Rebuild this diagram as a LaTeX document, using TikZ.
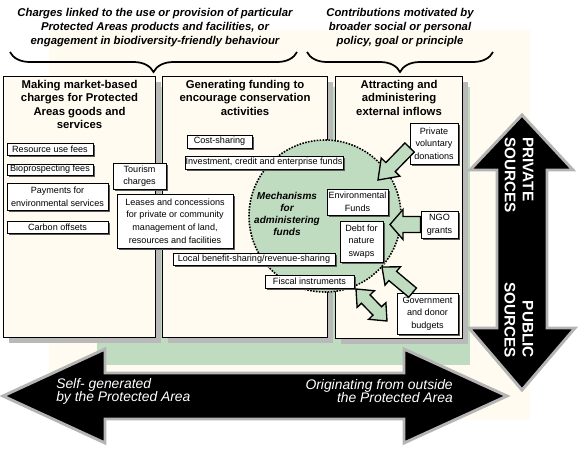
\documentclass[tikz,border=0pt]{standalone}
\usepackage{fontspec}
\setmainfont{Liberation Sans}
\usetikzlibrary{positioning,calc,shadows,decorations.pathreplacing}

\definecolor{paper}{HTML}{FFFBF0}
\definecolor{mgreen}{HTML}{C0DCC0}
\definecolor{rim}{HTML}{B4B4B4}
\newcommand{\px}{0.75pt}

\tikzset{
  note/.style={font=\fontsize{8.5}{10.5}\selectfont\bfseries\itshape, align=center, inner sep=0pt},
  curly/.style={decorate, decoration={brace, mirror, amplitude=15pt}, line width=1.3pt},
  panel/.style={draw, line width=0.8pt, fill=paper, anchor=north west, inner sep=0pt,
    drop shadow={shadow xshift=4pt, shadow yshift=-4pt, fill=gray!55, opacity=1}},
  panelhead/.style={font=\fontsize{8.5}{10.1}\selectfont\bfseries, align=center, inner sep=0pt},
  item/.style={draw, line width=0.6pt, fill=white, font=\fontsize{6.8}{9.5}\selectfont,
    align=center, inner sep=0pt,
    drop shadow={shadow xshift=1.5pt, shadow yshift=-1.5pt, fill=gray!70!black, opacity=1}},
  pool/.style={circle, fill=mgreen, draw, densely dotted, line width=1.2pt,
    minimum size=152*\px, inner sep=0pt},
  pooltext/.style={font=\fontsize{7.5}{9}\selectfont\bfseries\itshape, align=center, inner sep=0pt},
  flow/.style={draw, line width=1pt, fill=mgreen, line join=miter},
  bigarrow/.style={fill=black, draw=rim, line width=2.2pt, line join=miter},
  sidetext/.style={text=white, font=\fontsize{11.5}{13.5}\selectfont\bfseries, inner sep=0pt},
  flowtext/.style={text=white, font=\fontsize{10.4}{9.8}\selectfont\itshape, inner sep=0pt}
}

% block arrow: tail, tip, shaft half width, head half width, head length
\newcommand{\flowarrow}[5]{%
  \coordinate (fa-base) at ($(#2)!#5!(#1)$);
  \draw[flow] ($(#1)!#3!90:(#2)$) -- ($(fa-base)!#3!90:(#2)$) -- ($(fa-base)!#4!90:(#2)$)
    -- (#2) -- ($(fa-base)!#4!-90:(#2)$) -- ($(fa-base)!#3!-90:(#2)$) -- ($(#1)!#3!-90:(#2)$) -- cycle;
}
% block arrow with two heads
\newcommand{\twowayarrow}[5]{%
  \coordinate (ta-a) at ($(#1)!#5!(#2)$);
  \coordinate (ta-b) at ($(#2)!#5!(#1)$);
  \draw[flow] (#1) -- ($(ta-a)!#4!90:(#2)$) -- ($(ta-a)!#3!90:(#2)$) -- ($(ta-b)!#3!-90:(#1)$)
    -- ($(ta-b)!#4!-90:(#1)$) -- (#2) -- ($(ta-b)!#4!90:(#1)$) -- ($(ta-b)!#3!90:(#1)$)
    -- ($(ta-a)!#3!-90:(#2)$) -- ($(ta-a)!#4!-90:(#2)$) -- cycle;
}

\begin{document}
\begin{tikzpicture}[x=0.75pt,y=-0.75pt]
  \useasboundingbox (0,0) rectangle (586,455);

  % backdrop
  \fill[paper] (49,30) rectangle (530,420);
  \fill[mgreen] (97,87) rectangle (470,365);

  % headings over the columns
  \node[note] (usenote) at (155,28) {Charges linked to the use or provision of particular\\Protected Areas products and facilities, or\\engagement in biodiversity-friendly behaviour};
  \node[note] (givenote) at (400,28) {Contributions motivated by\\broader social or personal\\policy, goal or principle};
  \coordinate (usebrace-l) at (10,52);
  \coordinate (usebrace-r) at (297,52);
  \coordinate (givebrace-l) at (307,52);
  \coordinate (givebrace-r) at (493,52);
  \draw[curly] (usebrace-l) -- (usebrace-r);
  \draw[curly] (givebrace-l) -- (givebrace-r);

  % the three columns
  \node[panel, minimum width=152*\px, minimum height=261*\px] (market) at (3,76) {};
  \node[panel, minimum width=165*\px, minimum height=261*\px] (funding) at (162,76) {};
  \node[panel, minimum width=127*\px, minimum height=262*\px] (inflow) at (335,76) {};
  \node[panelhead, below=3pt of market.north] (markethead) {Making market-based\\charges for Protected\\Areas goods and\\services};
  \node[panelhead, below=3pt of funding.north] (fundinghead) {Generating funding to\\encourage conservation\\activities};
  \node[panelhead, below=3pt of inflow.north] (inflowhead) {Attracting and\\administering\\external inflows};

  % mechanisms circle
  \node[pool] (pool) at (325,216) {};
  \node[pooltext] (pooltext) at (287,214) {Mechanisms\\for\\administering\\funds};

  % market-based charges
  \node[item, minimum width=86*\px, minimum height=12*\px] (resfee) at (50,149) {Resource use fees};
  \node[item, minimum width=86*\px, minimum height=11*\px] (biofee) at (50,169.5) {Bioprospecting fees};
  \node[item, minimum width=101*\px, minimum height=27*\px] (pes) at (57.5,196.5) {Payments for\\environmental services};
  \node[item, minimum width=101*\px, minimum height=12*\px] (carbon) at (57.5,227) {Carbon offsets};
  \node[item, minimum width=53*\px, minimum height=26*\px] (tourism) at (139.5,176) {Tourism\\charges};
  \node[item, minimum width=116*\px, minimum height=54*\px] (lease) at (175,221) {Leases and concessions\\for private or community\\management of land,\\resources and facilities};

  % funding for conservation
  \node[item, minimum width=65*\px, minimum height=13*\px] (costshare) at (219.5,141.5) {Cost-sharing};
  \node[item, minimum width=158*\px, minimum height=13*\px] (invest) at (264,162.5) {Investment, credit and enterprise funds};
  \node[item, minimum width=162*\px, minimum height=12*\px] (localshare) at (254,259) {Local benefit-sharing/revenue-sharing};
  \node[item, minimum width=89*\px, minimum height=13*\px] (fiscal) at (309.5,281.5) {Fiscal instruments};

  % external inflows
  \node[item, minimum width=48*\px, minimum height=41*\px] (donation) at (434,143.5) {Private\\voluntary\\donations};
  \node[item, minimum width=61*\px, minimum height=26*\px] (envfund) at (357.5,202) {Environmental\\Funds};
  \node[item, minimum width=43*\px, minimum height=41*\px] (debtswap) at (361.5,241.5) {Debt for\\nature\\swaps};
  \node[item, minimum width=37*\px, minimum height=27*\px] (ngo) at (439.5,224.5) {NGO\\grants};
  \node[item, minimum width=61*\px, minimum height=41*\px] (govbudget) at (427.5,313.5) {Government\\and donor\\budgets};

  % inflows into the circle
  \coordinate (donation-in) at (378,180);
  \coordinate (ngo-in) at (390,224.5);
  \coordinate (gov-in) at (382,267);
  \coordinate (gov-a) at (356,289);
  \coordinate (gov-b) at (387,321);
  \flowarrow{[yshift=-3pt]donation.west}{donation-in}{4.9pt}{9.75pt}{13.5pt}
  \flowarrow{ngo.west}{ngo-in}{6pt}{11.25pt}{9.75pt}
  \flowarrow{[xshift=12pt]govbudget.north west}{gov-in}{4.5pt}{9pt}{10.5pt}
  \twowayarrow{gov-a}{gov-b}{4.5pt}{9pt}{10.5pt}

  % private / public
  \draw[bigarrow] (522,115) -- (573,170) -- (547,170) -- (547,328) -- (575,328) -- (522,390)
    -- (469,328) -- (497,328) -- (497,170) -- (470,170) -- cycle;
  \node[sidetext, rotate=-90, align=left] (privtext) at (519,175) {PRIVATE\\SOURCES};
  \node[sidetext, rotate=-90, align=right] (pubtext) at (519,320) {PUBLIC\\SOURCES};

  % self-generated / outside
  \draw[bigarrow] (3,396) -- (105,349) -- (105,373) -- (404,373) -- (404,349) -- (507,396)
    -- (404,443) -- (404,419) -- (105,419) -- (105,443) -- cycle;
  \node[flowtext, anchor=west, align=left] (selftext) at (56,391) {Self- generated\\by the Protected Area};
  \node[flowtext, anchor=east, align=right] (outtext) at (453,391) {Originating from outside\\the Protected Area};

\end{tikzpicture}
\end{document}
